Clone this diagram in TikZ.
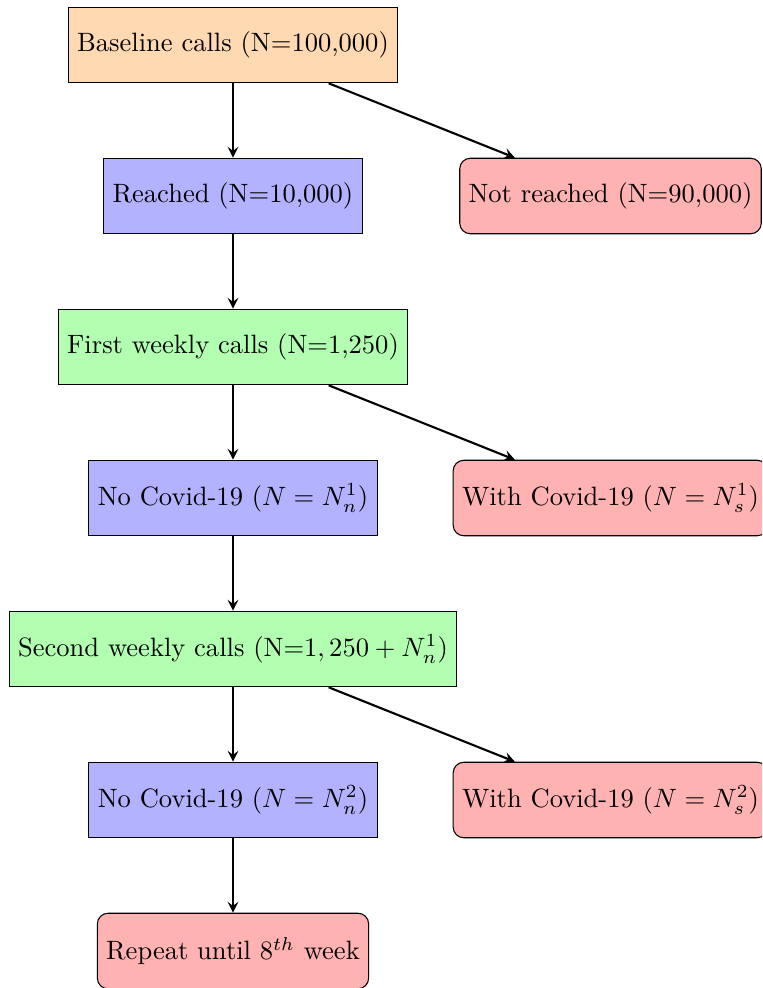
\documentclass[tikz,border=0pt]{standalone}
\usetikzlibrary{arrows}
\begin{document}
\begin{tikzpicture}[
  base/.style={rectangle, draw=black, minimum height=1cm, text centered},
  startbox/.style={base, fill=orange!30},
  procbox/.style={base, fill=blue!30},
  callbox/.style={base, fill=green!30},
  endbox/.style={base, rounded corners, fill=red!30},
  arr/.style={thick, -stealth}
]
\clip (-3.086,0.596) rectangle (7.007,-12.49);
\node[startbox] (base) at (0,0) {Baseline calls (N=100,000)};
\node[procbox] (reach) at (0,-2) {Reached (N=10,000)};
\node[endbox] (notreach) at (5,-2) {Not reached (N=90,000)};
\node[callbox] (first) at (0,-4) {First weekly calls (N=1,250)};
\node[procbox] (no1) at (0,-6) {No Covid-19 ($N=N_n^1$)};
\node[endbox] (with1) at (5,-6) {With Covid-19 ($N=N_s^1$)};
\node[callbox] (second) at (0,-8) {Second weekly calls (N=$1,250+N_n^1$)};
\node[procbox] (no2) at (0,-10) {No Covid-19 ($N=N_n^2$)};
\node[endbox] (with2) at (5,-10) {With Covid-19 ($N=N_s^2$)};
\node[endbox] (repeat) at (0,-12) {Repeat until $8^{th}$ week};
\draw[arr] (base) -- (reach);
\draw[arr] (base) -- (notreach);
\draw[arr] (reach) -- (first);
\draw[arr] (first) -- (no1);
\draw[arr] (first) -- (with1);
\draw[arr] (no1) -- (second);
\draw[arr] (second) -- (no2);
\draw[arr] (second) -- (with2);
\draw[arr] (no2) -- (repeat);
\end{tikzpicture}
\end{document}
